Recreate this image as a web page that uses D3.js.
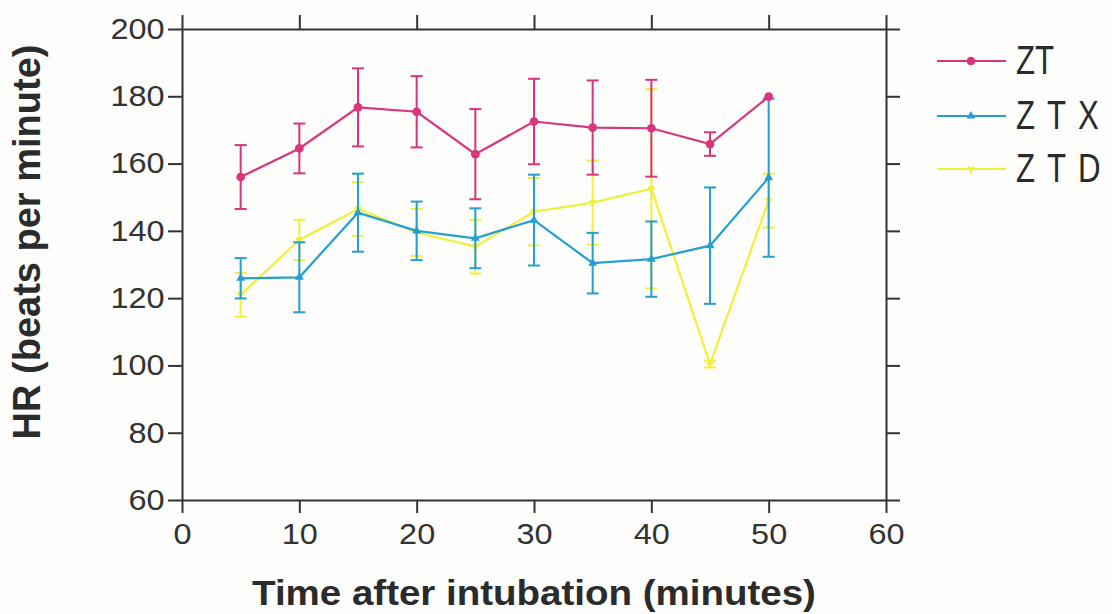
<!DOCTYPE html>
<html>
<head>
<meta charset="utf-8">
<script src="https://cdn.jsdelivr.net/npm/d3@7"></script>
<style>
  html, body { margin: 0; padding: 0; background: #fdfdfb; }
  svg { display: block; font-family: "Liberation Sans", Arial, sans-serif; }
  .axis path, .axis line { stroke: #333; stroke-width: 2; }
  .axis text { fill: #333; font-size: 29px; }
</style>
</head>
<body>
<div id="chart"></div>
<script>
// time points (minutes after intubation)
const times = [5, 10, 15, 20, 25, 30, 35, 40, 45, 50];

// mean HR and error (beats per minute)
const ztMean  = [156, 164.5, 176.7, 175.4, 162.8, 172.5, 170.7, 170.5, 165.8, 179.9];
const ztErr   = [9.5, 7.4, 11.6, 10.6, 13.4, 12.7, 14, 14.4, 3.5, 0];
const ztxMean = [125.9, 126.2, 145.4, 140, 137.8, 143.2, 130.4, 131.6, 135.6, 155.8];
const ztxErr  = [6, 10.4, 11.6, 8.7, 8.9, 13.5, 9, 11.2, 17.3, 23.5];
const ztdMean = [121, 137.3, 146.5, 139.5, 135.3, 145.7, 148.4, 152.5, 100.4, 149];
const ztdErr  = [6.5, 6, 8, 7, 8, 10, 12.5, 29.6, 1, 8];

const seriesNames = ['ZT', 'Z T X', 'Z T D'];
const xTicks = [0, 10, 20, 30, 40, 50, 60];
const yTicks = [60, 80, 100, 120, 140, 160, 180, 200];

const W = 1112, H = 614;
const margin = {top: 29, right: 226, bottom: 114, left: 182};
const width = W - margin.left - margin.right;
const height = H - margin.top - margin.bottom;

const series = [
  {name: seriesNames[2], mean: ztdMean, err: ztdErr, color: '#f0ef3a', symbol: d3.symbolWye, size: 28},
  {name: seriesNames[1], mean: ztxMean, err: ztxErr, color: '#249fcf', symbol: d3.symbolTriangle, size: 34},
  {name: seriesNames[0], mean: ztMean, err: ztErr, color: '#d8357c', symbol: d3.symbolCircle, size: 60}
];

const svg = d3.select('#chart').append('svg')
  .attr('width', W).attr('height', H);

const g = svg.append('g').attr('transform', `translate(${margin.left},${margin.top})`);
const x = d3.scaleLinear().domain([0, 60]).range([0, width]);
const y = d3.scaleLinear().domain([60, 200]).range([height, 0]);

// axes: labelled left/bottom, plain ticks top/right
g.append('g').attr('class', 'axis')
  .call(d3.axisLeft(y).tickValues(yTicks).tickSize(14).tickSizeOuter(0).tickPadding(3))
  .selectAll('text').attr('x', -15.5).attr('transform', 'scale(1.12,1)');
g.append('g').attr('class', 'axis').attr('transform', `translate(0,${height})`)
  .call(d3.axisBottom(x).tickValues(xTicks).tickSize(13).tickSizeOuter(0).tickPadding(10))
  .selectAll('text').attr('transform', 'scale(1.12,1)');
g.append('g').attr('class', 'axis')
  .call(d3.axisTop(x).tickValues(xTicks).tickSize(14).tickSizeOuter(0).tickFormat(''));
g.append('g').attr('class', 'axis').attr('transform', `translate(${width},0)`)
  .call(d3.axisRight(y).tickValues(yTicks).tickSize(14).tickSizeOuter(0).tickFormat(''));

// series
const line = d3.line().x((d, i) => x(times[i])).y(d => y(d));
series.forEach(s => {
  const sg = g.append('g');
  sg.append('path').datum(s.mean)
    .attr('fill', 'none').attr('stroke', s.color).attr('stroke-width', 2.2)
    .attr('d', line);
  const eb = sg.selectAll('.eb').data(times).enter().append('g');
  eb.append('line')
    .attr('x1', d => x(d)).attr('x2', d => x(d))
    .attr('y1', (d, i) => y(s.mean[i] - s.err[i]))
    .attr('y2', (d, i) => y(s.mean[i] + s.err[i]))
    .attr('stroke', s.color).attr('stroke-width', 2);
  [-1, 1].forEach(sign => {
    eb.append('line')
      .attr('x1', d => x(d) - 6).attr('x2', d => x(d) + 6)
      .attr('y1', (d, i) => y(s.mean[i] + sign * s.err[i]))
      .attr('y2', (d, i) => y(s.mean[i] + sign * s.err[i]))
      .attr('stroke', s.color).attr('stroke-width', 2)
      .attr('opacity', (d, i) => s.err[i] > 0.5 ? 1 : 0);
  });
  sg.selectAll('.pt').data(times).enter().append('path')
    .attr('transform', (d, i) => `translate(${x(d)},${y(s.mean[i])})`)
    .attr('d', d3.symbol().type(s.symbol).size(s.size))
    .attr('fill', s.color);
});

// axis titles
svg.append('text')
  .attr('transform', `translate(${margin.left + width / 2},605) scale(1.1,1)`)
  .attr('text-anchor', 'middle').attr('font-weight', 'bold').attr('font-size', 35)
  .attr('fill', '#2b2b2b').text('Time after intubation (minutes)');
svg.append('text')
  .attr('transform', 'translate(40,242) rotate(-90)')
  .attr('text-anchor', 'middle').attr('font-weight', 'bold').attr('font-size', 38)
  .attr('fill', '#2b2b2b').text('HR (beats per minute)');

// legend
const legendY = [61, 116, 169];
const legend = svg.append('g');
series.slice().reverse().forEach((s, i) => {
  const ly = legendY[i];
  legend.append('line').attr('x1', 937).attr('x2', 1006).attr('y1', ly).attr('y2', ly)
    .attr('stroke', s.color).attr('stroke-width', 2.2);
  legend.append('path').attr('transform', `translate(971,${ly})`)
    .attr('d', d3.symbol().type(s.symbol).size(s.size)).attr('fill', s.color);
  legend.append('text')
    .attr('transform', `translate(1016,${ly + 13}) scale(0.78,1)`)
    .attr('font-size', 40).attr('fill', '#2b2b2b')
    .attr('letter-spacing', i === 0 ? 0 : 2.5)
    .text(s.name);
});
</script>
</body>
</html>
